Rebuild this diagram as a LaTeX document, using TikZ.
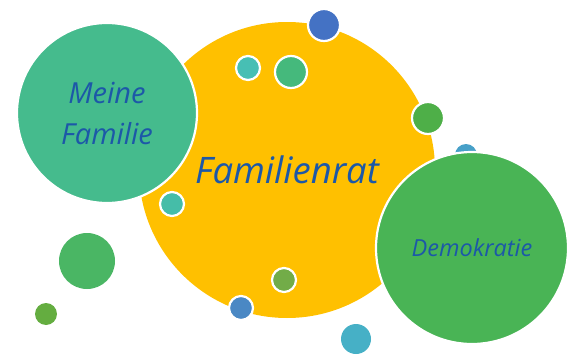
\documentclass[tikz,border=0pt]{standalone}
\usepackage{fontspec}
\setmainfont{Open Sans}
\usepackage{tikz}
\definecolor{ratgelb}{HTML}{FFC000}
\definecolor{familiegruen}{HTML}{45BB8D}
\definecolor{demogruen}{HTML}{49B455}
\definecolor{schrift}{HTML}{1C58A8}
\tikzset{
  rand/.style={draw=white, line width=2.2pt},
  blase/.style={circle, inner sep=0pt, align=center, text=schrift, font=\itshape}
}

\begin{document}
\begin{tikzpicture}[x=1pt, y=-1pt]
			%%%%% START %%%%%
			\useasboundingbox (0, 0) rectangle (579, 356);
			
			\draw[fill={rgb,255:red,74;green,182;blue,100}, draw=none] (87, 261) circle[radius=28pt];
			\draw[fill={rgb,255:red,100;green,173;blue,64}, draw=none] (46, 314) circle[radius=11pt];
			\draw[fill={rgb,255:red,70;green,176;blue,198}, draw=none] (356, 339) circle[radius=15pt];
			
			\node[blase, fill=ratgelb, minimum size=296pt, font=\itshape\fontsize{36.5}{40}\selectfont] (rat) at (287, 170) {Familienrat};
			
			\draw[rand, fill={rgb,255:red,68;green,114;blue,196}] (324, 25) circle[radius=16pt];
			\draw[rand, fill={rgb,255:red,71;green,191;blue,180}] (248, 68) circle[radius=12pt];
			\draw[rand, fill={rgb,255:red,69;green,185;blue,124}] (291, 72) circle[radius=16pt];
			\draw[rand, fill={rgb,255:red,78;green,175;blue,72}] (428, 118) circle[radius=16pt];
			\draw[rand, fill={rgb,255:red,69;green,189;blue,168}] (172, 204) circle[radius=12pt];
			\draw[rand, fill={rgb,255:red,114;green,172;blue,72}] (284, 280) circle[radius=12pt];
			\draw[rand, fill={rgb,255:red,74;green,136;blue,196}] (241, 308) circle[radius=12pt];
			\draw[fill={rgb,255:red,71;green,160;blue,200}, draw=none] (466, 155) circle[radius=11pt];
			
			\node[blase, rand, fill=familiegruen, minimum size=180pt, font=\itshape\fontsize{29}{41}\selectfont] (familie) at (107, 113) {Meine\\Familie};
			\node[blase, rand, fill=demogruen, minimum size=192pt, font=\itshape\fontsize{23.5}{28}\selectfont] (demokratie) at (472, 248) {Demokratie};
			
			%%%%% END %%%%%
\end{tikzpicture}
\end{document}
